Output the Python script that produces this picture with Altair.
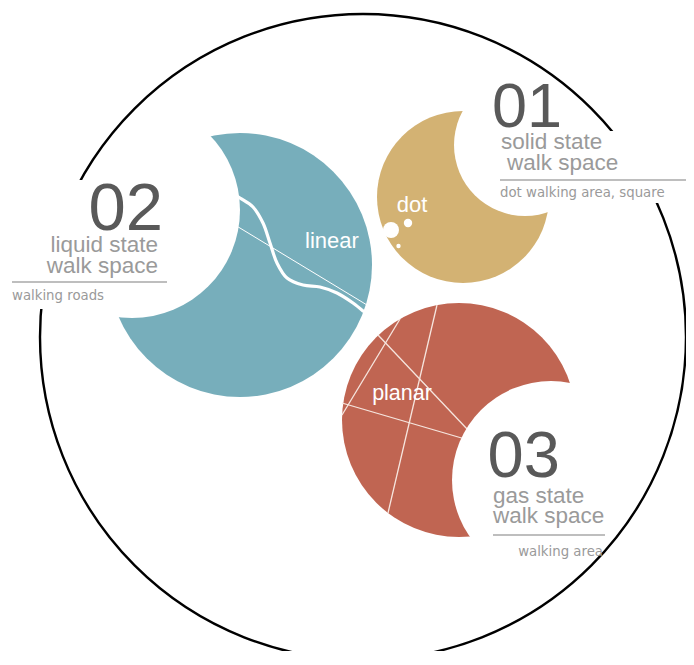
import altair as alt
import pandas as pd

# ---------------- data (page-pixel units) ----------------
# coloured discs
disc_name = ["liquid", "solid", "gas"]
disc_cx = [240, 463, 459]
disc_cy = [265, 197, 420]
disc_r = [132, 86, 117]
disc_color = ["#77aebb", "#d3b273", "#c06552"]

# white discs that carve the crescents
cut_cx = [132, 525, 551]
cut_cy = [210, 145, 480]
cut_r = [108, 71, 99]

# big outer ring
ring_cx = [363]
ring_cy = [337]
ring_r = [323]

# white dots on the "dot" crescent
dot_cx = [391, 408, 398.5]
dot_cy = [230, 223, 246]
dot_r = [8, 4.2, 2.2]

# wavy road on the "linear" crescent
wave_x = [232, 240, 253, 263, 270, 277, 287, 303, 320, 337, 353, 363]
wave_y = [193, 198, 207, 223, 243, 263, 278, 285, 287, 293, 303, 311]
# straight thin road
road_x1 = [230]
road_y1 = [222]
road_x2 = [367]
road_y2 = [305]

# cross lines on the "planar" crescent
plane_x1 = [437, 400, 378, 342]
plane_y1 = [305, 319, 335, 403]
plane_x2 = [388, 342, 468, 465]
plane_y2 = [513, 415, 430, 439]

# white boxes behind the text blocks
box_x1 = [8, 560]
box_x2 = [167, 694]
box_y1 = [180, 131]
box_y2 = [309, 203]

# underlines of the text blocks
ul_x1 = [12, 500, 493]
ul_x2 = [167, 694, 605]
ul_y = [282, 180, 535]

# texts: label, x, y(baseline), size, colour, align, font
txt_label = ["01", "solid state", "walk space", "dot walking area, square",
             "02", "liquid state", "walk space", "walking roads",
             "03", "gas state", "walk space", "walking area",
             "dot", "linear", "planar"]
txt_x = [492, 501, 507, 500,
         163, 158, 158, 12,
         487.5, 493, 493, 603,
         412, 332, 402]
txt_y = [127, 149, 170, 197,
         230, 252, 273, 300,
         477, 503, 523, 556,
         212, 248, 400]
txt_size = [63, 22.5, 22.5, 13.3,
            67, 22.5, 22.5, 13.3,
            65, 22.5, 22.5, 13.3,
            22, 22, 21.5]
txt_color = ["#595959", "#9a9a9a", "#9a9a9a", "#9a9a9a",
             "#595959", "#9a9a9a", "#9a9a9a", "#9a9a9a",
             "#595959", "#9a9a9a", "#9a9a9a", "#9a9a9a",
             "white", "white", "white"]
txt_align = ["left", "left", "left", "left",
             "right", "right", "right", "left",
             "left", "left", "left", "right",
             "center", "center", "center"]
txt_font = ["Liberation Sans"] * 3 + ["DejaVu Sans"] + \
           ["Liberation Sans"] * 3 + ["DejaVu Sans"] + \
           ["Liberation Sans"] * 3 + ["DejaVu Sans"] + \
           ["Liberation Sans"] * 3

# ---------------- chart ----------------
W, H, OFF = 678, 643, 8
xs = alt.Scale(domain=[OFF, OFF + W], range=[0, W], nice=False, zero=False)
ys = alt.Scale(domain=[OFF, OFF + H], range=[0, H], nice=False, zero=False)
ss = alt.Scale(type="pow", exponent=2, domain=[0, 100], range=[0, 40000], nice=False)


def X(f):
    return alt.X(f, type="quantitative", scale=xs, axis=None)


def Y(f):
    return alt.Y(f, type="quantitative", scale=ys, axis=None)


S = alt.Size("r:Q", scale=ss, legend=None)

discs = pd.DataFrame({"name": disc_name, "cx": disc_cx, "cy": disc_cy,
                      "r": disc_r, "color": disc_color})
cuts = pd.DataFrame({"cx": cut_cx, "cy": cut_cy, "r": cut_r})
ring = pd.DataFrame({"cx": ring_cx, "cy": ring_cy, "r": ring_r})
dots = pd.DataFrame({"cx": dot_cx, "cy": dot_cy, "r": dot_r})
wave = pd.DataFrame({"i": list(range(len(wave_x))), "x": wave_x, "y": wave_y})
road = pd.DataFrame({"x1": road_x1, "y1": road_y1, "x2": road_x2, "y2": road_y2})
plane = pd.DataFrame({"x1": plane_x1, "y1": plane_y1, "x2": plane_x2, "y2": plane_y2})
boxes = pd.DataFrame({"x1": box_x1, "x2": box_x2, "y1": box_y1, "y2": box_y2})
ul = pd.DataFrame({"x1": ul_x1, "x2": ul_x2, "y": ul_y})
texts = pd.DataFrame({"label": txt_label, "x": txt_x, "y": txt_y, "size": txt_size,
                      "color": txt_color, "align": txt_align, "font": txt_font})

layers = []
layers.append(alt.Chart(discs).mark_point(shape="circle", filled=True, opacity=1, strokeWidth=0)
              .encode(x=X("cx"), y=Y("cy"), size=S, color=alt.Color("color:N", scale=None)))
layers.append(alt.Chart(wave).mark_line(color="white", strokeWidth=3.2, interpolate="catmull-rom",
                                        strokeCap="round")
              .encode(x=X("x"), y=Y("y"), order="i:O"))
layers.append(alt.Chart(road).mark_rule(color="white", strokeWidth=1)
              .encode(x=X("x1"), y=Y("y1"), x2="x2", y2="y2"))
layers.append(alt.Chart(plane).mark_rule(color="#f6e6df", strokeWidth=1.3)
              .encode(x=X("x1"), y=Y("y1"), x2="x2", y2="y2"))
layers.append(alt.Chart(cuts).mark_point(shape="circle", filled=True, opacity=1, strokeWidth=0,
                                         color="white")
              .encode(x=X("cx"), y=Y("cy"), size=S))
layers.append(alt.Chart(dots).mark_point(shape="circle", filled=True, opacity=1, strokeWidth=0,
                                         color="white")
              .encode(x=X("cx"), y=Y("cy"), size=S))
layers.append(alt.Chart(ring).mark_point(shape="circle", filled=False, opacity=1, strokeWidth=2.4,
                                         color="black")
              .encode(x=X("cx"), y=Y("cy"), size=S))
layers.append(alt.Chart(boxes).mark_rect(color="white")
              .encode(x=X("x1"), x2="x2", y=Y("y1"), y2="y2"))
layers.append(alt.Chart(ul).mark_rule(color="#a8a8a8", strokeWidth=1.5)
              .encode(x=X("x1"), x2="x2", y=Y("y")))

for (al, fn), grp in texts.groupby(["align", "font"]):
    layers.append(alt.Chart(grp).mark_text(align=al, baseline="alphabetic", font=fn)
                  .encode(x=X("x"), y=Y("y"), text="label:N",
                          size=alt.Size("size:Q", scale=None),
                          color=alt.Color("color:N", scale=None)))

chart = (alt.layer(*layers)
         .properties(width=W, height=H, padding=0, autosize="none", background="white")
         .configure_view(stroke=None))

chart.save("out.html", embed_options={"renderer": "svg", "actions": False})
